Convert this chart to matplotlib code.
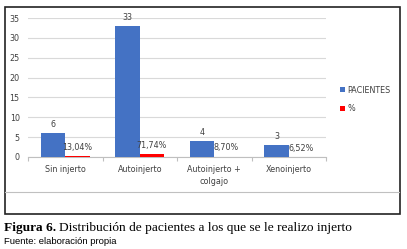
import matplotlib
matplotlib.use("Agg")
import matplotlib.pyplot as plt
from matplotlib.patches import Rectangle
from matplotlib.lines import Line2D

categories = ["Sin injerto", "Autoinjerto", "Autoinjerto +\ncolgajo", "Xenoinjerto"]
pacientes = [6, 33, 4, 3]
porcentaje = [0.1304, 0.7174, 0.0870, 0.0652]
pct_labels = ["13,04%", "71,74%", "8,70%", "6,52%"]
yticks = [0, 5, 10, 15, 20, 25, 30, 35]

W, H = 407, 249
fig = plt.figure(figsize=(W / 100, H / 100), dpi=100)
fig.patch.set_facecolor("white")

def fx(px):
    return px / W

def fy(py):
    return 1 - py / H

FONT = "DejaVu Sans"
BLUE = "#4472C4"
RED = "#FF0000"
TXT = "#404040"

# outer box
fig.add_artist(Rectangle((fx(4.5), fy(214)), fx(395), fy(7) - fy(214),
                         transform=fig.transFigure, fill=False,
                         edgecolor="#222222", linewidth=1.2))
# separator line
fig.add_artist(Line2D([fx(5), fx(399)], [fy(192), fy(192)],
                      transform=fig.transFigure, color="#c0c0c0", linewidth=0.8))

ax = fig.add_axes([fx(28), fy(157), fx(326) - fx(28), fy(18) - fy(157)])
x = list(range(len(categories)))
bw = 0.33
xb = [i - bw / 2 for i in x]
xr = [i + bw / 2 for i in x]
b1 = ax.bar(xb, pacientes, width=bw, color=BLUE, zorder=3, label="PACIENTES")
b2 = ax.bar(xr, porcentaje, width=bw, color=RED, zorder=3, label="%")

for xi, v in zip(xb, pacientes):
    ax.annotate(str(v), (xi, v), xytext=(0, 3), textcoords="offset points",
                ha="center", va="bottom", fontsize=5.8, family=FONT, color=TXT)
for xi, v, lab in zip(xr, porcentaje, pct_labels):
    ax.annotate(lab, (xi, v), xytext=(0, 3), textcoords="offset points",
                ha="center", va="bottom", fontsize=5.8, family=FONT, color=TXT)

ax.set_xlim(-0.5, 3.5)
ax.set_ylim(0, 35)
ax.set_yticks(yticks)
ax.set_yticklabels([str(t) for t in yticks], fontsize=5.8, family=FONT, color=TXT)
ax.yaxis.grid(True, color="#d9d9d9", linewidth=0.8, zorder=0)
ax.set_axisbelow(True)
ax.tick_params(axis="y", length=0, pad=6)
ax.set_xticks([-0.5, 0.5, 1.5, 2.5, 3.5])
ax.set_xticklabels([])
ax.set_xticks(x, minor=True)
ax.set_xticklabels(categories, minor=True, fontsize=5.8, family=FONT, color=TXT,
                   linespacing=1.4)
ax.tick_params(axis="x", which="major", length=3, color="#bfbfbf", width=0.8)
ax.tick_params(axis="x", which="minor", length=0, pad=6)
for s in ["top", "right", "left"]:
    ax.spines[s].set_visible(False)
ax.spines["bottom"].set_color("#bfbfbf")
ax.spines["bottom"].set_linewidth(0.8)
ax.set_facecolor("none")

# legend
leg = fig.legend(handles=[b1, b2], labels=["PACIENTES", "%"],
                 loc="upper left", bbox_to_anchor=(fx(336), fy(81.5)),
                 frameon=False, prop={"family": FONT, "size": 5.8},
                 handlelength=0.6, handleheight=0.6, handletextpad=0.3,
                 labelspacing=1.2, borderpad=0)
for t in leg.get_texts():
    t.set_color(TXT)

# caption
renderer = fig.canvas.get_renderer()
t1 = fig.text(fx(4), fy(228), "Figura 6.", fontsize=9.6, family="Liberation Serif",
              weight="bold", va="center", ha="left")
bb = t1.get_window_extent(renderer=renderer)
fig.text(bb.x1 / W + fx(3), fy(228), "Distribución de pacientes a los que se le realizo injerto",
         fontsize=9.6, family="Liberation Serif", va="center", ha="left")
fig.text(fx(4), fy(241.5), "Fuente: elaboración propia", fontsize=6.8,
         family="Liberation Sans", va="center", ha="left")

fig.savefig("out.png", dpi=100)
